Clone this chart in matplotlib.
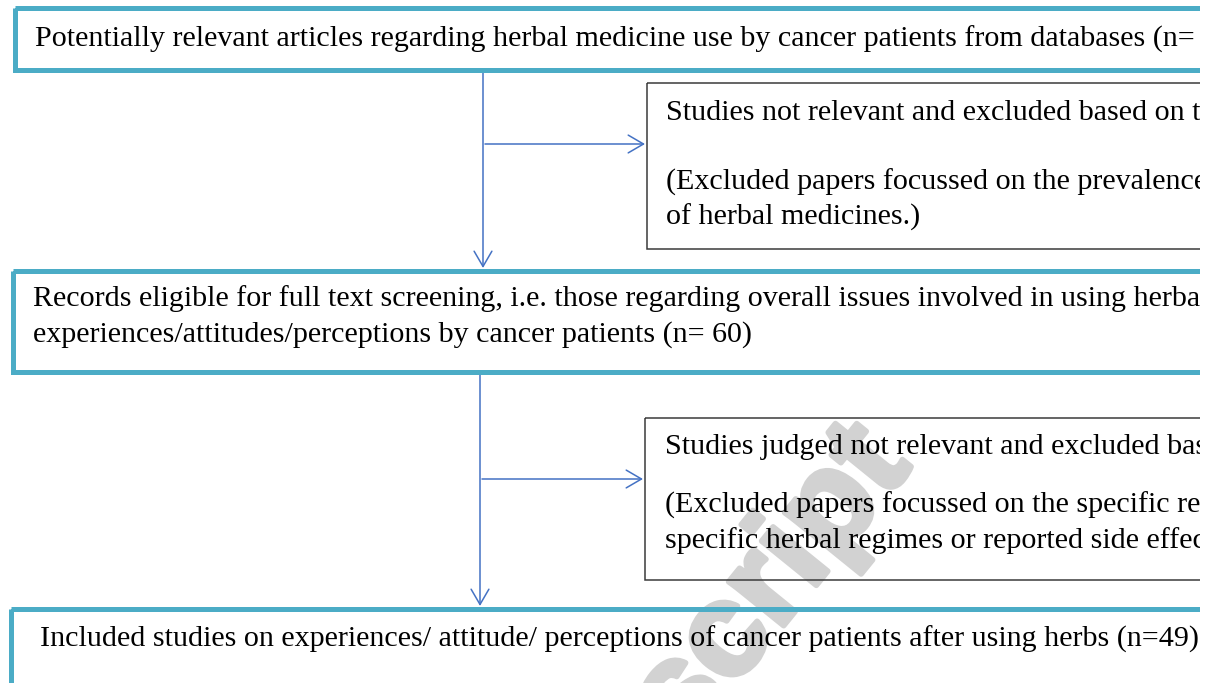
import matplotlib.pyplot as plt
import matplotlib.patheffects as pe
from matplotlib.patches import Rectangle

# ---------------------------
# Flowchart text (as far as the page shows it; the right edge is cropped)
# ---------------------------
box1_lines = ["Potentially relevant articles regarding herbal medicine use by cancer patients from databases (n="]
box2_lines = ["Studies not relevant and excluded based on t",
              "(Excluded papers focussed on the prevalence",
              "of herbal medicines.)"]
box3_lines = ["Records eligible for full text screening, i.e. those regarding overall issues involved in using herbal",
              "experiences/attitudes/perceptions by cancer patients (n= 60)"]
box4_lines = ["Studies judged not relevant and excluded bas",
              "(Excluded papers focussed on the specific re",
              "specific herbal regimes or reported side effec"]
box5_lines = ["Included studies on experiences/ attitude/ perceptions of cancer patients after using herbs (n=49)"]
watermark = "Manuscript"

# layout (pixel units, y downwards)
W, H = 1220, 683
CLIP_X = 1200
teal = "#4BACC6"
blue = "#4472C4"
edge = "#3a3a3a"
wm_grey = "#d2d2d2"
fs = 21.6

fig = plt.figure(figsize=(W / 100, H / 100), dpi=100)
ax = fig.add_axes([0, 0, CLIP_X / W, 1])
ax.set_xlim(0, CLIP_X)
ax.set_ylim(H, 0)
ax.axis("off")

# watermark
ax.text(913, 466, watermark, rotation=51, rotation_mode="anchor",
        ha="right", va="baseline", fontsize=96, fontweight="bold",
        family="Liberation Sans", color=wm_grey, zorder=0, clip_on=True,
        path_effects=[pe.withStroke(linewidth=4, foreground=wm_grey)])


def box(x0, y0, y1, color, lw):
    r = Rectangle((x0, y0), 1400, y1 - y0, fill=False, edgecolor=color,
                  linewidth=lw, zorder=2)
    ax.add_patch(r)


def lines(x, ys, texts):
    for y, t in zip(ys, texts):
        ax.text(x, y, t, fontsize=fs, family="Liberation Serif", color="black",
                va="baseline", ha="left", clip_on=True, zorder=3)


box(14.5, 7.5, 69.5, teal, 3.6)
lines(35, [47], box1_lines)

box(646.5, 83, 249, edge, 1.1)
lines(666, [120, 190, 225], box2_lines)

box(12.5, 270.5, 371.5, teal, 3.6)
lines(33, [306.5, 341.5], box3_lines)

box(644.5, 418, 580, edge, 1.1)
lines(665, [454, 513, 548], box4_lines)

box(11, 608.5, 760, teal, 3.6)
lines(40, [646.5], box5_lines)


def arrow(x0, y0, x1, y1):
    ax.annotate("", xy=(x1, y1), xytext=(x0, y0),
                arrowprops=dict(arrowstyle="->,head_length=0.55,head_width=0.32",
                                color=blue, lw=1.1, mutation_scale=20,
                                shrinkA=0, shrinkB=0), zorder=1)


arrow(483, 72, 483, 268)
arrow(485, 144, 645, 144)
arrow(480, 374, 480, 606)
arrow(482, 479, 643, 479)

plt.savefig("out.png", dpi=100)
